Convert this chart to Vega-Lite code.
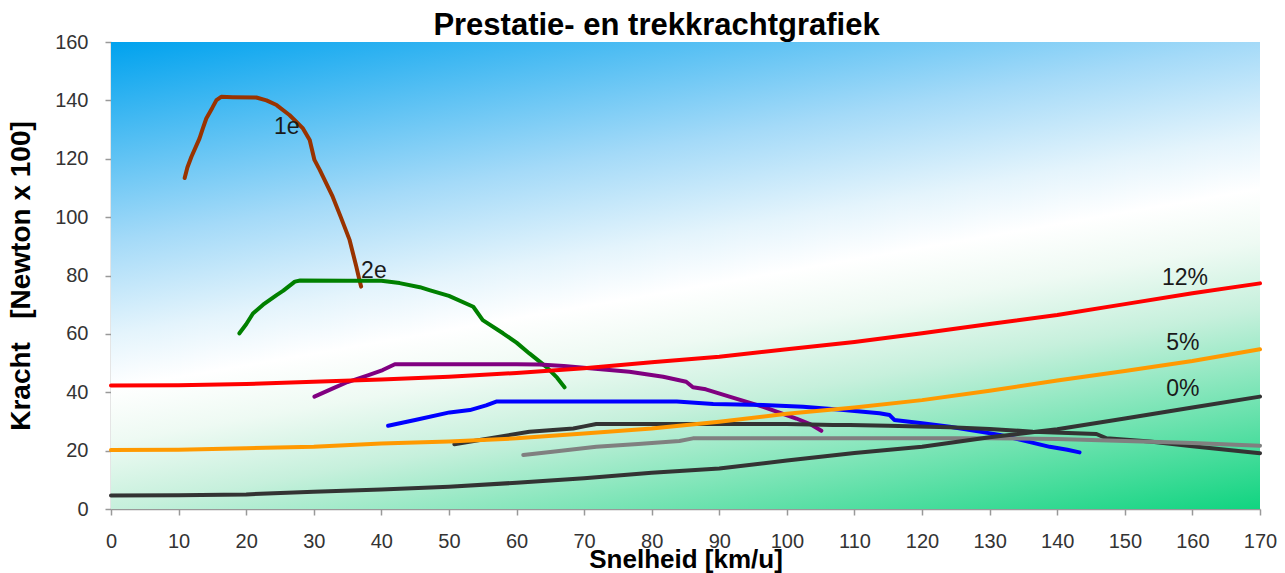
{
  "$schema": "https://vega.github.io/schema/vega-lite/v6.json",
  "width": 1149,
  "height": 467,
  "autosize": "none",
  "padding": {"left": 111, "top": 42, "right": 25, "bottom": 64},
  "background": "white",
  "title": {"text": "Prestatie- en trekkrachtgrafiek", "font": "Liberation Sans", "fontSize": 31, "fontWeight": "bold", "color": "black", "anchor": "middle", "frame": "group", "dx": -29, "offset": -10},
  "config": {"view": {"stroke": null}, "axis": {"labelFont": "Liberation Sans", "titleFont": "Liberation Sans"}},
  "datasets": {
    "curves": [
      {"s": "1e", "v": 10.9, "F": 113.4}, {"s": "1e", "v": 11.3, "F": 117}, {"s": "1e", "v": 11.9, "F": 120.7}, {"s": "1e", "v": 13.1, "F": 127}, {"s": "1e", "v": 13.6, "F": 130.5}, {"s": "1e", "v": 14.1, "F": 133.8}, {"s": "1e", "v": 15.0, "F": 137.5}, {"s": "1e", "v": 15.6, "F": 140.1}, {"s": "1e", "v": 16.3, "F": 141.2}, {"s": "1e", "v": 18, "F": 141.1}, {"s": "1e", "v": 21.5, "F": 141}, {"s": "1e", "v": 23, "F": 140}, {"s": "1e", "v": 24.5, "F": 138.4}, {"s": "1e", "v": 26.4, "F": 135}, {"s": "1e", "v": 28.4, "F": 130.4}, {"s": "1e", "v": 29.4, "F": 126.4}, {"s": "1e", "v": 30.1, "F": 119.6}, {"s": "1e", "v": 30.9, "F": 116.1}, {"s": "1e", "v": 32.8, "F": 107}, {"s": "1e", "v": 34, "F": 100}, {"s": "1e", "v": 35.3, "F": 92.2}, {"s": "1e", "v": 36.3, "F": 83}, {"s": "1e", "v": 36.7, "F": 79}, {"s": "1e", "v": 37.0, "F": 76.2},
      {"s": "2e", "v": 19, "F": 60.2}, {"s": "2e", "v": 20, "F": 63.3}, {"s": "2e", "v": 21, "F": 67}, {"s": "2e", "v": 22.5, "F": 70}, {"s": "2e", "v": 24.5, "F": 73.3}, {"s": "2e", "v": 25.5, "F": 74.8}, {"s": "2e", "v": 27.2, "F": 77.9}, {"s": "2e", "v": 28, "F": 78.3}, {"s": "2e", "v": 35, "F": 78.2}, {"s": "2e", "v": 40, "F": 78.2}, {"s": "2e", "v": 42.7, "F": 77.4}, {"s": "2e", "v": 45.7, "F": 76}, {"s": "2e", "v": 47.1, "F": 75}, {"s": "2e", "v": 50, "F": 73}, {"s": "2e", "v": 53.6, "F": 69.3}, {"s": "2e", "v": 55, "F": 64.7}, {"s": "2e", "v": 58, "F": 60.2}, {"s": "2e", "v": 60, "F": 57}, {"s": "2e", "v": 61.9, "F": 53.3}, {"s": "2e", "v": 64.4, "F": 48.7}, {"s": "2e", "v": 66, "F": 45}, {"s": "2e", "v": 67.1, "F": 41.7},
      {"s": "3e", "v": 30.1, "F": 38.5}, {"s": "3e", "v": 33, "F": 41.5}, {"s": "3e", "v": 35, "F": 43.5}, {"s": "3e", "v": 38, "F": 45.8}, {"s": "3e", "v": 40.2, "F": 47.6}, {"s": "3e", "v": 42, "F": 49.6}, {"s": "3e", "v": 50, "F": 49.6}, {"s": "3e", "v": 60, "F": 49.6}, {"s": "3e", "v": 63.4, "F": 49.5}, {"s": "3e", "v": 67, "F": 49}, {"s": "3e", "v": 70.8, "F": 48.2}, {"s": "3e", "v": 76.7, "F": 47}, {"s": "3e", "v": 81.7, "F": 45.3}, {"s": "3e", "v": 85.1, "F": 43.6}, {"s": "3e", "v": 86.1, "F": 41.7}, {"s": "3e", "v": 88, "F": 41}, {"s": "3e", "v": 91.5, "F": 38.5}, {"s": "3e", "v": 96.5, "F": 35}, {"s": "3e", "v": 101.4, "F": 31}, {"s": "3e", "v": 103.5, "F": 29}, {"s": "3e", "v": 105.1, "F": 26.8},
      {"s": "4e", "v": 41, "F": 28.5}, {"s": "4e", "v": 45, "F": 30.5}, {"s": "4e", "v": 50.1, "F": 33.1}, {"s": "4e", "v": 53.1, "F": 33.9}, {"s": "4e", "v": 55.5, "F": 35.5}, {"s": "4e", "v": 57, "F": 36.8}, {"s": "4e", "v": 70, "F": 36.8}, {"s": "4e", "v": 83.7, "F": 36.8}, {"s": "4e", "v": 89.1, "F": 36}, {"s": "4e", "v": 96.5, "F": 35.6}, {"s": "4e", "v": 102.4, "F": 35}, {"s": "4e", "v": 108, "F": 34}, {"s": "4e", "v": 113.7, "F": 32.8}, {"s": "4e", "v": 115.2, "F": 32.2}, {"s": "4e", "v": 115.9, "F": 30.5}, {"s": "4e", "v": 120, "F": 29.4}, {"s": "4e", "v": 124.1, "F": 28.2}, {"s": "4e", "v": 131.5, "F": 25.4}, {"s": "4e", "v": 138.9, "F": 21.3}, {"s": "4e", "v": 141.5, "F": 20.3}, {"s": "4e", "v": 143.3, "F": 19.4},
      {"s": "5e", "v": 50.8, "F": 22.2}, {"s": "5e", "v": 55, "F": 23.8}, {"s": "5e", "v": 61.9, "F": 26.5}, {"s": "5e", "v": 68.4, "F": 27.6}, {"s": "5e", "v": 70, "F": 28.3}, {"s": "5e", "v": 71.8, "F": 29.1}, {"s": "5e", "v": 80, "F": 29.1}, {"s": "5e", "v": 90, "F": 29.1}, {"s": "5e", "v": 100, "F": 29.1}, {"s": "5e", "v": 106.8, "F": 28.8}, {"s": "5e", "v": 109.3, "F": 28.8}, {"s": "5e", "v": 115, "F": 28.5}, {"s": "5e", "v": 124.1, "F": 28}, {"s": "5e", "v": 130, "F": 27.4}, {"s": "5e", "v": 136.4, "F": 26.5}, {"s": "5e", "v": 145.8, "F": 25.7}, {"s": "5e", "v": 147.3, "F": 24.2}, {"s": "5e", "v": 153.7, "F": 23.1}, {"s": "5e", "v": 160, "F": 21.5}, {"s": "5e", "v": 170, "F": 19.1},
      {"s": "6e", "v": 61, "F": 18.5}, {"s": "6e", "v": 65, "F": 19.5}, {"s": "6e", "v": 71.8, "F": 21.3}, {"s": "6e", "v": 78, "F": 22.3}, {"s": "6e", "v": 84.1, "F": 23.3}, {"s": "6e", "v": 86.1, "F": 24.2}, {"s": "6e", "v": 100, "F": 24.2}, {"s": "6e", "v": 115, "F": 24.2}, {"s": "6e", "v": 130, "F": 24.2}, {"s": "6e", "v": 140, "F": 24}, {"s": "6e", "v": 148.8, "F": 23.4}, {"s": "6e", "v": 160, "F": 22.6}, {"s": "6e", "v": 170, "F": 21.7},
      {"s": "12%", "v": 0, "F": 42.3}, {"s": "12%", "v": 10, "F": 42.4}, {"s": "12%", "v": 20, "F": 42.8}, {"s": "12%", "v": 30, "F": 43.6}, {"s": "12%", "v": 40, "F": 44.4}, {"s": "12%", "v": 50, "F": 45.3}, {"s": "12%", "v": 60, "F": 46.6}, {"s": "12%", "v": 70, "F": 48.2}, {"s": "12%", "v": 80, "F": 50.3}, {"s": "12%", "v": 90, "F": 52.2}, {"s": "12%", "v": 100, "F": 54.7}, {"s": "12%", "v": 110, "F": 57.2}, {"s": "12%", "v": 120, "F": 60.2}, {"s": "12%", "v": 130, "F": 63.4}, {"s": "12%", "v": 140, "F": 66.5}, {"s": "12%", "v": 150, "F": 70.2}, {"s": "12%", "v": 160, "F": 73.9}, {"s": "12%", "v": 170, "F": 77.3},
      {"s": "5%", "v": 0, "F": 20.2}, {"s": "5%", "v": 10, "F": 20.3}, {"s": "5%", "v": 20, "F": 20.8}, {"s": "5%", "v": 30, "F": 21.3}, {"s": "5%", "v": 40, "F": 22.4}, {"s": "5%", "v": 50, "F": 23.1}, {"s": "5%", "v": 60, "F": 24.2}, {"s": "5%", "v": 70, "F": 25.9}, {"s": "5%", "v": 80, "F": 27.6}, {"s": "5%", "v": 90, "F": 29.9}, {"s": "5%", "v": 100, "F": 32.6}, {"s": "5%", "v": 110, "F": 34.8}, {"s": "5%", "v": 120, "F": 37.3}, {"s": "5%", "v": 130, "F": 40.5}, {"s": "5%", "v": 140, "F": 44}, {"s": "5%", "v": 150, "F": 47.3}, {"s": "5%", "v": 160, "F": 50.7}, {"s": "5%", "v": 170, "F": 54.7},
      {"s": "0%", "v": 0, "F": 4.6}, {"s": "0%", "v": 10, "F": 4.7}, {"s": "0%", "v": 20, "F": 5.0}, {"s": "0%", "v": 30, "F": 5.9}, {"s": "0%", "v": 40, "F": 6.7}, {"s": "0%", "v": 50, "F": 7.6}, {"s": "0%", "v": 60, "F": 9.0}, {"s": "0%", "v": 70, "F": 10.5}, {"s": "0%", "v": 80, "F": 12.4}, {"s": "0%", "v": 90, "F": 13.9}, {"s": "0%", "v": 100, "F": 16.6}, {"s": "0%", "v": 110, "F": 19.2}, {"s": "0%", "v": 120, "F": 21.3}, {"s": "0%", "v": 130, "F": 24.6}, {"s": "0%", "v": 140, "F": 27.3}, {"s": "0%", "v": 150, "F": 31}, {"s": "0%", "v": 160, "F": 34.8}, {"s": "0%", "v": 170, "F": 38.5}
    ],
    "labels": [
      {"t": "1e", "v": 26, "F": 130.9},
      {"t": "2e", "v": 38.9, "F": 81.5},
      {"t": "12%", "v": 158.9, "F": 79.1},
      {"t": "5%", "v": 158.6, "F": 56.9},
      {"t": "0%", "v": 158.6, "F": 41.1}
    ]
  },
  "layer": [
    {
      "data": {"values": [{"bg": 1}]},
      "mark": {"type": "rect", "fill": {"gradient": "linear", "x1": 0, "y1": 0, "x2": 0.517, "y2": 1.207, "stops": [
        {"offset": 0, "color": "#00a2ee"},
        {"offset": 0.3, "color": "#a4daf8"},
        {"offset": 0.44, "color": "#e4f4fc"},
        {"offset": 0.52, "color": "#ffffff"},
        {"offset": 0.6, "color": "#eefaf3"},
        {"offset": 0.7, "color": "#c6f0dc"},
        {"offset": 1, "color": "#10d480"}
      ]}},
      "encoding": {
        "x": {"datum": 0, "type": "quantitative", "scale": {"domain": [0, 170], "nice": false}, "axis": {"title": "Snelheid [km/u]", "values": [0,10,20,30,40,50,60,70,80,90,100,110,120,130,140,150,160,170], "grid": true, "gridColor": {"condition": {"test": "datum.value == 0 || datum.value == 170", "value": "transparent"}, "value": "white"}, "gridWidth": 2.5, "domainColor": "#999999", "domainWidth": 1.5, "tickColor": "#999999", "tickWidth": 1.5, "tickSize": 6, "labelFontSize": 20, "labelColor": "#333333", "labelPadding": 16, "titleFontSize": 26, "titleFontWeight": "bold", "titleColor": "black", "titlePadding": -5, "labelFlush": false, "zindex": 0}},
        "x2": {"datum": 170},
        "y": {"datum": 0, "type": "quantitative", "scale": {"domain": [0, 160], "nice": false}, "axis": {"title": "Kracht\u00a0\u00a0\u00a0[Newton x 100]", "values": [0,20,40,60,80,100,120,140,160], "grid": false, "domainColor": "#999999", "domainWidth": 1.5, "tickColor": "#999999", "tickWidth": 1.5, "tickSize": 6, "labelFontSize": 20, "labelColor": "#333333", "labelPadding": 17, "titleFontSize": 28, "titleFontWeight": "bold", "titleColor": "black", "titlePadding": 19, "labelFlush": false}},
        "y2": {"datum": 160}
      }
    },
    {
      "data": {"name": "curves"},
      "mark": {"type": "line", "strokeWidth": 4, "strokeCap": "round", "strokeJoin": "round"},
      "encoding": {
        "x": {"field": "v", "type": "quantitative"},
        "y": {"field": "F", "type": "quantitative"},
        "color": {"field": "s", "type": "nominal", "legend": null, "scale": {"domain": ["0%", "5%", "12%", "6e", "5e", "4e", "3e", "2e", "1e"], "range": ["#333333", "#ff9900", "#ff0000", "#808080", "#333333", "#0000ff", "#800080", "#008000", "#993300"]}},
        "order": {"field": "v", "type": "quantitative"}
      }
    },
    {
      "data": {"name": "labels"},
      "mark": {"type": "text", "font": "Liberation Sans", "fontSize": 23, "color": "#1a1a1a", "align": "center", "baseline": "middle"},
      "encoding": {
        "x": {"field": "v", "type": "quantitative"},
        "y": {"field": "F", "type": "quantitative"},
        "text": {"field": "t"}
      }
    }
  ]
}
